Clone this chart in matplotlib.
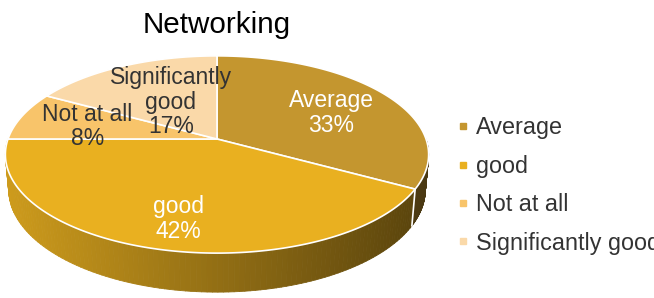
import numpy as np
import matplotlib.pyplot as plt
from matplotlib.collections import PolyCollection
from matplotlib.patches import Polygon
from matplotlib.lines import Line2D

# datos del grafico
categorias = ['Average', 'good', 'Not at all', 'Significantly good']
valores = [33, 42, 8, 17]
etiquetas = ['Average\n33%', 'good\n42%', 'Not at all\n8%', 'Significantly\ngood\n17%']
colores = ['#C4962F', '#E9B020', '#F8C46A', '#FAD9A9']
color_texto = ['white', 'white', '#333333', '#333333']
radio_texto = [0.67, 0.8, 0.63, 0.47]
# ajuste fino de las etiquetas (pixeles)
ajuste = [(0, 5), (9, -5), (-5, 2), (1, 0)]

# camara del pastel 3d (en pixeles)
cx, cy, escala = 217, 139, 209
elev = np.radians(27.4)
foco = 5.65
alto = 0.19


def proyectar(t, z=0.0, r=1.0):
    x = r * np.cos(t)
    y = r * np.sin(t)
    yv = y * np.sin(elev) + z * np.cos(elev)
    d = y * np.cos(elev) - z * np.sin(elev)
    s = foco / (foco + d)
    return cx + escala * x * s, cy - escala * yv * s


def oscurecer(color, f):
    c = np.array(plt.matplotlib.colors.to_rgb(color))
    return tuple(np.clip(c * f, 0, 1))


fig = plt.figure(figsize=(6.54, 2.98), dpi=100)
ax = fig.add_axes([0, 0, 1, 1])
ax.set_xlim(0, 654)
ax.set_ylim(298, 0)
ax.axis('off')

# angulos de cada rebanada (sentido horario desde arriba)
total = sum(valores)
bordes = [np.pi / 2]
for v in valores:
    bordes.append(bordes[-1] - 2 * np.pi * v / total)

# caras laterales (solo la mitad de enfrente)
polys, cols = [], []
for i in range(len(valores)):
    a0, a1 = bordes[i], bordes[i + 1]
    for k in range(-1, 2):
        lo = max(min(a0, a1), -np.pi + 2 * np.pi * k)
        hi = min(max(a0, a1), 0 + 2 * np.pi * k)
        if hi <= lo:
            continue
        ts = np.linspace(lo, hi, 120)
        for j in range(len(ts) - 1):
            p1 = proyectar(ts[j]); p2 = proyectar(ts[j + 1])
            p3 = proyectar(ts[j + 1], -alto); p4 = proyectar(ts[j], -alto)
            polys.append([p1, p2, p3, p4])
            xm = (p1[0] + p2[0]) / 2
            f = 0.88 - 0.5 * (xm - 8) / 418
            cols.append(oscurecer(colores[i], f))
pc = PolyCollection(polys, facecolors=cols, edgecolors=cols, linewidths=0.6)
ax.add_collection(pc)

# linea blanca vertical en el borde de rebanada visible
for b in bordes:
    bb = (b + np.pi) % (2 * np.pi) - np.pi
    if -np.pi < bb < 0:
        p1 = proyectar(bb); p2 = proyectar(bb, -alto)
        ax.plot([p1[0], p2[0]], [p1[1], p2[1]], color='white', lw=1.2)

# caras superiores
for i in range(len(valores)):
    ts = np.linspace(bordes[i], bordes[i + 1], 200)
    xs, ys = proyectar(ts)
    pts = [(cx, cy)] + list(zip(xs, ys))
    ax.add_patch(Polygon(pts, closed=True, facecolor=colores[i],
                         edgecolor='white', lw=1.2, joinstyle='round'))

# etiquetas de datos
for i in range(len(valores)):
    m = (bordes[i] + bordes[i + 1]) / 2
    x, y = proyectar(m, 0, radio_texto[i])
    ax.text(x + ajuste[i][0], y + ajuste[i][1], etiquetas[i], ha='center',
            va='center', fontsize=16.5, color=color_texto[i],
            family='Liberation Sans', linespacing=1.08)

# titulo
ax.text(217, 25, 'Networking', ha='center', va='center', fontsize=21.3,
        color='black', family='Liberation Sans')

# leyenda
manejadores = [Line2D([], [], marker='s', ls='none', markersize=4.5,
                      markerfacecolor=c, markeredgecolor=c) for c in colores]
fig.legend(manejadores, categorias, loc='upper left',
           bbox_to_anchor=(449 / 654, 1 - 107 / 298), frameon=False,
           prop={'family': 'Liberation Sans', 'size': 16.8},
           labelcolor='#333333', handlelength=0.4, handletextpad=0.35,
           labelspacing=0.66, borderaxespad=0)

fig.savefig('out.png', dpi=100)
